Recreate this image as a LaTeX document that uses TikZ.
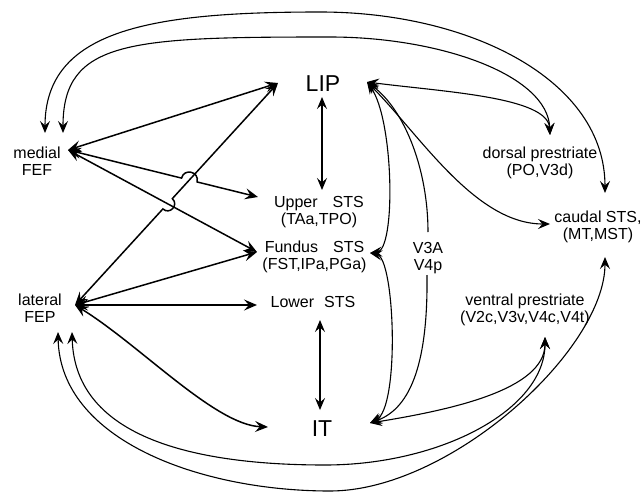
\documentclass[tikz,border=0pt]{standalone}
\usepackage{fontspec}
\setmainfont{Liberation Sans}
\usetikzlibrary{arrows.meta,calc}
\begin{document}
\begin{tikzpicture}[x=1pt,y=-1pt,
  lbl/.style={font=\fontsize{16}{17.5}\selectfont,align=center,inner sep=0pt},
  big/.style={font=\fontsize{23}{26}\selectfont,inner sep=0pt},
  hd/.tip={Stealth[length=13pt,width=11pt,inset=5pt]},
  hc/.tip={Stealth[length=12pt,width=10pt,inset=4.5pt]},
  st/.style={line width=1.5pt,hd-hd},
  cv/.style={line width=1.1pt,hc-hc},
  cvs/.style={line width=1.1pt,hc-},
  cve/.style={line width=1.1pt,-hc}]
\useasboundingbox (0,0) rectangle (643,493);
% labels
\node[lbl] (medFEF) at (37,161) {medial\\FEF};
\node[lbl] (latFEP) at (40,308) {lateral\\FEP};
\node[big] (LIP) at (323,84) {LIP};
\node[big] (IT) at (322,429) {IT};
\node[lbl] (upper) at (319,212) {Upper\hspace{15pt}STS\\(TAa,TPO)};
\node[lbl] (fundus) at (314.5,257) {Fundus\hspace{15pt}STS\\(FST,IPa,PGa)};
\node[lbl] (lower) at (313,302) {Lower\hspace{10pt}STS};
\node[lbl] (v3a) at (428,258) {V3A\\V4p};
\node[lbl] (dorsal) at (540,163) {dorsal prestriate\\(PO,V3d)};
\node[lbl] (caudal) at (598,227) {caudal STS,\\(MT,MST)};
\node[lbl] (ventral) at (525,310) {ventral prestriate\\(V2c,V3v,V4c,V4t)};
% connector ends
\coordinate (mFe) at ([shift={(31,-11)}]medFEF.center);
\coordinate (mFt1) at ([shift={(8,-28)}]medFEF.center);
\coordinate (mFt2) at ([shift={(26,-28)}]medFEF.center);
\coordinate (lFe) at ([shift={(35,-3)}]latFEP.center);
\coordinate (lFb1) at ([shift={(18,24)}]latFEP.center);
\coordinate (lFb2) at ([shift={(32,24)}]latFEP.center);
\coordinate (Lw) at ([shift={(-45,-1)}]LIP.center);
\coordinate (Le) at ([shift={(44,-2)}]LIP.center);
\coordinate (Ls) at ([shift={(-1,13)}]LIP.center);
\coordinate (Iw) at ([shift={(-54,-2)}]IT.center);
\coordinate (Ie) at ([shift={(48,-6)}]IT.center);
\coordinate (In) at ([shift={(-2,-19)}]IT.center);
\coordinate (Uw) at ([shift={(-61,-15)}]upper.center);
\coordinate (Un) at ([shift={(3,-22)}]upper.center);
\coordinate (Fw) at ([shift={(-57.5,-5)}]fundus.center);
\coordinate (Fe) at ([shift={(55.5,-4)}]fundus.center);
\coordinate (Lo) at ([shift={(-56,3)}]lower.center);
\coordinate (Lb) at ([shift={(7,18)}]lower.center);
\coordinate (Vt) at ([shift={(0,-26)}]v3a.center);
\coordinate (Vb) at ([shift={(-1,17)}]v3a.center);
\coordinate (Dt) at ([shift={(10,-28)}]dorsal.center);
\coordinate (Ct) at ([shift={(7,-34)}]caudal.center);
\coordinate (Cw) at ([shift={(-48,-3)}]caudal.center);
\coordinate (Cb) at ([shift={(7,30)}]caudal.center);
\coordinate (Vv) at ([shift={(20,27)}]ventral.center);
\coordinate (X1) at (intersection of mFe--Uw and lFe--Lw);
\coordinate (X2) at (intersection of mFe--Fw and lFe--Lw);
% straight connectors from the FEFs
\draw[st] (mFe) -- (Lw);
\draw[st] (mFe) -- ($(X1)!8pt!(mFe)$) to[bend left=90,looseness=1.7] ($(X1)!8pt!(Uw)$) -- (Uw);
\draw[st] (mFe) -- (Fw);
\draw[st] (lFe) -- ($(X2)!7pt!(lFe)$) to[bend right=90,looseness=1.7] ($(X2)!7pt!(Lw)$) -- (Lw);
\draw[st] (lFe) -- (Fw);
\draw[st] (lFe) -- (Lo);
\draw[st] (lFe) .. controls +(65,40) and +(-53,-2) .. (Iw);
% vertical connectors
\draw[cv] (Ls) -- (Un);
\draw[cv] (Lb) -- (In);
% curves from LIP
\draw[cv] (Le) .. controls +(78,10) and +(-2,-38) .. (Dt);
\draw[cv] (Le) .. controls +(53,53) and +(-75,0) .. (Cw);
\draw[cvs] (Le) .. controls +(38,28) and +(0,-62) .. (Vt);
\draw[cv] (Le) .. controls +(27,38) and +(26,-3) .. (Fe);
\draw[cv] (Fe) .. controls +(25,5) and +(30,-15) .. (Ie);
\draw[cve] (Vb) .. controls +(1,85) and +(42,-15) .. (Ie);
\draw[cv] (Ie) .. controls +(80,-13) and +(0,53) .. (Vv);
% long arcs
\draw[cv] (mFt2) .. controls +(0,-93) and (130,37) .. (330,37) .. controls (440,37) and +(-2,-60) .. (Dt);
\draw[cv] (mFt1) .. controls +(0,-103) and (150,12) .. (320,12) .. controls (470,12) and +(0,-113) .. (Ct);
\draw[cv] (lFb2) .. controls +(3,108) and (200,465) .. (325,465) .. controls (440,465) and +(0,73) .. (Vv);
\draw[cv] (lFb1) .. controls +(2,108) and (200,491) .. (330,491) .. controls (450,491) and +(0,93) .. (Cb);
\end{tikzpicture}
\end{document}
